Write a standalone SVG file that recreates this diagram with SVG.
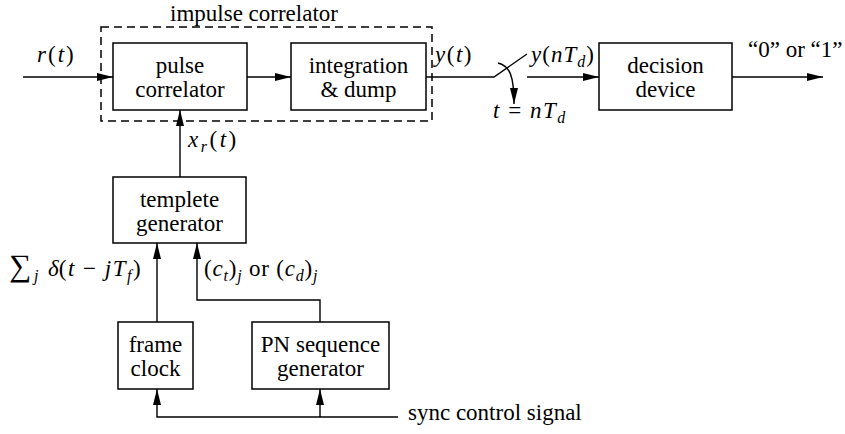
<svg xmlns="http://www.w3.org/2000/svg" width="845" height="434" viewBox="0 0 845 434" font-family="Liberation Serif, Times New Roman, serif">
<style>
text{font-family:'Liberation Serif','Times New Roman',serif;font-size:23px;fill:#000}
.c{text-anchor:middle}
.i{font-style:italic}
.s{font-size:16px;font-style:italic}
.box{fill:#fff;stroke:#000;stroke-width:1.5}
.ln{fill:none;stroke:#000;stroke-width:1.4}
.dash{fill:none;stroke:#000;stroke-width:1.5;stroke-dasharray:8,5}
</style>
<defs>
<marker id="ah" markerUnits="userSpaceOnUse" markerWidth="16" markerHeight="8" viewBox="0 0 16 8" refX="16" refY="4" orient="auto">
<path d="M0,0 L16,4 L0,8 z" fill="#000"/>
</marker>
</defs>
<rect x="0" y="0" width="845" height="434" fill="#fff"/>

<g id="impulse-correlator">
<rect class="dash" x="101" y="27" width="331" height="94"/>
<text class="c" x="254" y="21">impulse correlator</text>
</g>
<g id="pulse-correlator">
<rect class="box" x="113" y="43" width="134" height="67"/>
<text class="c" x="180" y="73">pulse</text>
<text class="c" x="180" y="97">correlator</text>
</g>
<g id="integration-dump">
<rect class="box" x="291" y="43" width="135" height="67"/>
<text class="c" x="358.5" y="73">integration</text>
<text class="c" x="358.5" y="97">&amp; dump</text>
</g>
<g id="decision-device">
<rect class="box" x="599" y="43" width="133" height="67"/>
<text class="c" x="665.5" y="73">decision</text>
<text class="c" x="665.5" y="97">device</text>
</g>
<g id="templete-generator">
<rect class="box" x="113" y="177" width="133" height="66"/>
<text class="c" x="179.5" y="207">templete</text>
<text class="c" x="179.5" y="231">generator</text>
</g>
<g id="frame-clock">
<rect class="box" x="118" y="322" width="75" height="67"/>
<text class="c" x="155.5" y="352">frame</text>
<text class="c" x="155.5" y="376">clock</text>
</g>
<g id="pn-sequence-generator">
<rect class="box" x="252" y="322" width="137" height="67"/>
<text class="c" x="320.5" y="352">PN sequence</text>
<text class="c" x="320.5" y="376">generator</text>
</g>

<g id="connectors">
<path class="ln" d="M23,77 H113" marker-end="url(#ah)"/>
<path class="ln" d="M247,77 H291" marker-end="url(#ah)"/>
<path class="ln" d="M426,77 H494 L527,54"/>
<path class="ln" d="M498,63 C510,66 514,76 514,104" marker-end="url(#ah)"/>
<path class="ln" d="M527,77 H599" marker-end="url(#ah)"/>
<path class="ln" d="M732,77 H823" marker-end="url(#ah)"/>
<path class="ln" d="M180,177 V110" marker-end="url(#ah)"/>
<path class="ln" d="M157,322 V243" marker-end="url(#ah)"/>
<path class="ln" d="M320,322 V300 H197 V243" marker-end="url(#ah)"/>
<path class="ln" d="M398,417 H157 V389" marker-end="url(#ah)"/>
<path class="ln" d="M320,417 V389" marker-end="url(#ah)"/>
</g>

<g id="labels">
<text x="37" y="62" letter-spacing="2"><tspan class="i">r</tspan>(<tspan class="i">t</tspan>)</text>
<text x="188" y="147" letter-spacing="2.5"><tspan class="i">x</tspan><tspan class="s" dy="5">r</tspan><tspan dy="-5">(</tspan><tspan class="i">t</tspan>)</text>
<text x="435" y="62" letter-spacing="1.5"><tspan class="i">y</tspan>(<tspan class="i">t</tspan>)</text>
<text x="531" y="62" letter-spacing="1"><tspan class="i">y</tspan>(<tspan class="i">nT</tspan><tspan class="s" dy="5">d</tspan><tspan dy="-5">)</tspan></text>
<text x="493" y="118" letter-spacing="1.5"><tspan class="i">t</tspan> = <tspan class="i">nT</tspan><tspan class="s" dy="5">d</tspan></text>
<text x="748" y="57">“0” or “1”</text>
<text y="276"><tspan x="9" font-size="31">∑</tspan><tspan x="34" dy="5" class="s">j</tspan><tspan x="48" dy="-5" class="i">δ</tspan><tspan letter-spacing="1.5">(<tspan class="i">t</tspan> − <tspan class="i">jT</tspan><tspan class="s" dy="5">f</tspan><tspan dy="-5">)</tspan></tspan></text>
<text x="204" y="276" letter-spacing="0.8">(<tspan class="i">c</tspan><tspan class="s" dy="5">t</tspan><tspan dy="-5">)</tspan><tspan class="s" dy="5">j</tspan><tspan dy="-5"> or (</tspan><tspan class="i">c</tspan><tspan class="s" dy="5">d</tspan><tspan dy="-5">)</tspan><tspan class="s" dy="5">j</tspan></text>
<text x="408" y="420">sync control signal</text>
</g>
</svg>
